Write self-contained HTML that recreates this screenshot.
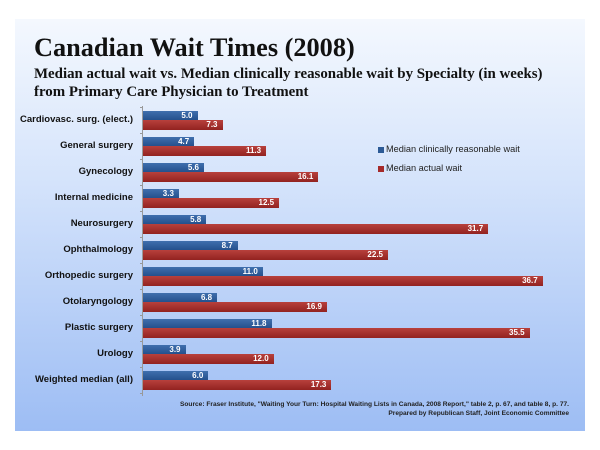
<!DOCTYPE html>
<html><head><style>
body{margin:0;width:600px;height:450px;background:#fff;overflow:hidden}
#p{position:absolute;left:15px;top:19px;width:570px;height:412px;background:linear-gradient(#f4f8fe 0%,#d4e3fb 40%,#9dbdf4 100%)}
.t{position:absolute;font-family:"Liberation Serif",serif;font-weight:bold;color:#111;white-space:nowrap}
.l{position:absolute;right:467px;font-family:"Liberation Sans",sans-serif;font-weight:bold;font-size:9.5px;color:#111;white-space:nowrap;text-align:right}
.b{position:absolute;left:143px;height:9px;background:linear-gradient(#3f6fae,#24508c);color:#fff;font:bold 8px "Liberation Sans",sans-serif;text-align:right;box-sizing:border-box;padding-right:5px;line-height:9px}
.r{background:linear-gradient(#b8403c,#922220);height:10px;line-height:10px}
.s{position:absolute;right:31px;font:bold 6.6px "Liberation Sans",sans-serif;color:#222;white-space:nowrap}
</style></head><body>
<div id="p"></div>
<div class="t" style="left:34px;top:33px;font-size:26.3px">Canadian Wait Times (2008)</div>
<div class="t" style="left:34px;top:65px;font-size:14.9px;line-height:18px">Median actual wait vs. Median clinically reasonable wait by Specialty (in weeks)<br>from Primary Care Physician to Treatment</div>
<div style="position:absolute;left:142px;top:106px;width:1px;height:290px;background:#999"></div>
<div id="c"></div>
<div style="position:absolute;left:378px;top:147px;width:6px;height:6px;background:#2c5a96"></div>
<div style="position:absolute;left:386px;top:144px;font:9.2px 'Liberation Sans',sans-serif;color:#222">Median clinically reasonable wait</div>
<div style="position:absolute;left:378px;top:166px;width:6px;height:6px;background:#a52a2a"></div>
<div style="position:absolute;left:386px;top:163px;font:9.2px 'Liberation Sans',sans-serif;color:#222">Median actual wait</div>
<div class="s" style="top:401px">Source: Fraser Institute, "Waiting Your Turn: Hospital Waiting Lists in Canada, 2008 Report," table 2, p. 67, and table 8, p. 77.</div>
<div class="s" style="top:410px">Prepared by Republican Staff, Joint Economic Committee</div>
<script>
var d=[["Cardiovasc. surg. (elect.)",5.0,7.3],["General surgery",4.7,11.3],["Gynecology",5.6,16.1],["Internal medicine",3.3,12.5],["Neurosurgery",5.8,31.7],["Ophthalmology",8.7,22.5],["Orthopedic surgery",11.0,36.7],["Otolaryngology",6.8,16.9],["Plastic surgery",11.8,35.5],["Urology",3.9,12.0],["Weighted median (all)",6.0,17.3]];
var h="";
function w(v){return (10.89*v).toFixed(1)}
d.forEach(function(e,i){var y=111+26*i;
h+='<div class="l" style="top:'+(y+3)+'px">'+e[0]+'</div>';
h+='<div class="b" style="top:'+y+'px;width:'+w(e[1])+'px">'+e[1].toFixed(1)+'</div>';
h+='<div class="b r" style="top:'+(y+9)+'px;width:'+w(e[2])+'px">'+e[2].toFixed(1)+'</div>';
h+='<div style="position:absolute;left:140px;top:'+(y-4)+'px;width:3px;height:1px;background:#999"></div>';});
h+='<div style="position:absolute;left:140px;top:393px;width:3px;height:1px;background:#999"></div>';
document.getElementById("c").innerHTML=h;
</script>
</body></html>
